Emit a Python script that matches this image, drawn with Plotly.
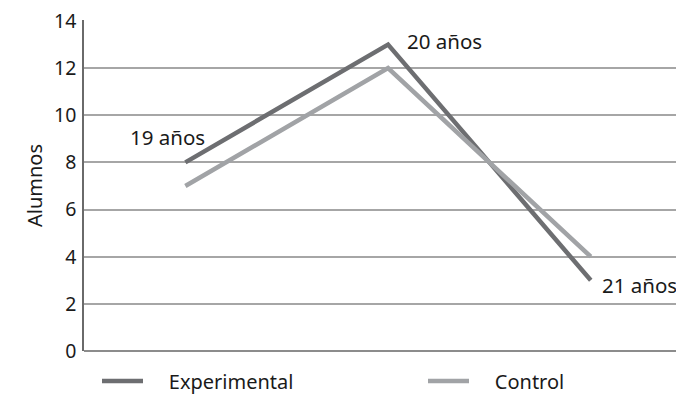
import plotly.graph_objects as go

categories = ["19 años", "20 años", "21 años"]
experimental = [8, 13, 3]
control = [7, 12, 4]
series_names = ["Experimental", "Control"]
y_label = "Alumnos"

FONT = "Noto Sans"
FS = 20
TXT = "#1a1a1a"
c_exp = "#6d6e71"
c_ctl = "#a1a3a6"
PAD = "\u00a0\u00a0\u00a0\u00a0"

W, H = 676, 387  # page has an 8px body margin

fig = go.Figure()
fig.add_trace(go.Scatter(x=categories, y=experimental, mode="lines", name=PAD + series_names[0],
                         line=dict(color=c_exp, width=4.5), legend="legend"))
fig.add_trace(go.Scatter(x=categories, y=control, mode="lines", name=PAD + series_names[1],
                         line=dict(color=c_ctl, width=4.5), legend="legend2"))

afont = dict(family=FONT, size=20.5, color=TXT)
fig.add_annotation(x=categories[0], y=experimental[0], text=categories[0], showarrow=False,
                   xanchor="right", yanchor="bottom", xshift=22, yshift=9, font=afont)
fig.add_annotation(x=categories[1], y=experimental[1], text=categories[1], showarrow=False,
                   xanchor="left", yanchor="middle", xshift=17, yshift=4, font=afont)
fig.add_annotation(x=categories[2], y=experimental[2], text=categories[2], showarrow=False,
                   xanchor="left", yanchor="middle", xshift=9, yshift=-5, font=afont)

leg_common = dict(orientation="h", xanchor="left", yref="container", y=(H - 373) / H,
                  yanchor="middle", itemwidth=41,
                  font=dict(family=FONT, size=FS, color=TXT), bgcolor="rgba(0,0,0,0)",
                  xref="container")
fig.update_layout(
    width=W, height=H,
    margin=dict(l=76, r=0, t=12, b=44, autoexpand=False),
    paper_bgcolor="white", plot_bgcolor="white",
    font=dict(family=FONT, size=FS, color=TXT),
    showlegend=True,
    legend=dict(x=89 / W, **leg_common),
    legend2=dict(x=415 / W, **leg_common),
)
fig.update_xaxes(type="category", range=[-0.5, 2.46], showticklabels=False, showgrid=False,
                 zeroline=False, showline=False, ticks="")
fig.update_yaxes(range=[0, 14.04], tickvals=[0, 2, 4, 6, 8, 10, 12, 14], showgrid=True,
                 gridcolor="#a6a6a6", gridwidth=1.5, ticklabeloverflow="allow",
                 zeroline=True, zerolinecolor="#8c8c8c", zerolinewidth=1.5,
                 showline=True, linecolor="#6a6a6a", linewidth=1.5, automargin=False,
                 ticks="outside", ticklen=2, tickcolor="rgba(0,0,0,0)",
                 tickfont=dict(family=FONT, size=19.5, color=TXT),
                 title=dict(text=y_label, standoff=6, font=dict(family=FONT, size=FS, color=TXT)))

fig.write_html("out.html")
